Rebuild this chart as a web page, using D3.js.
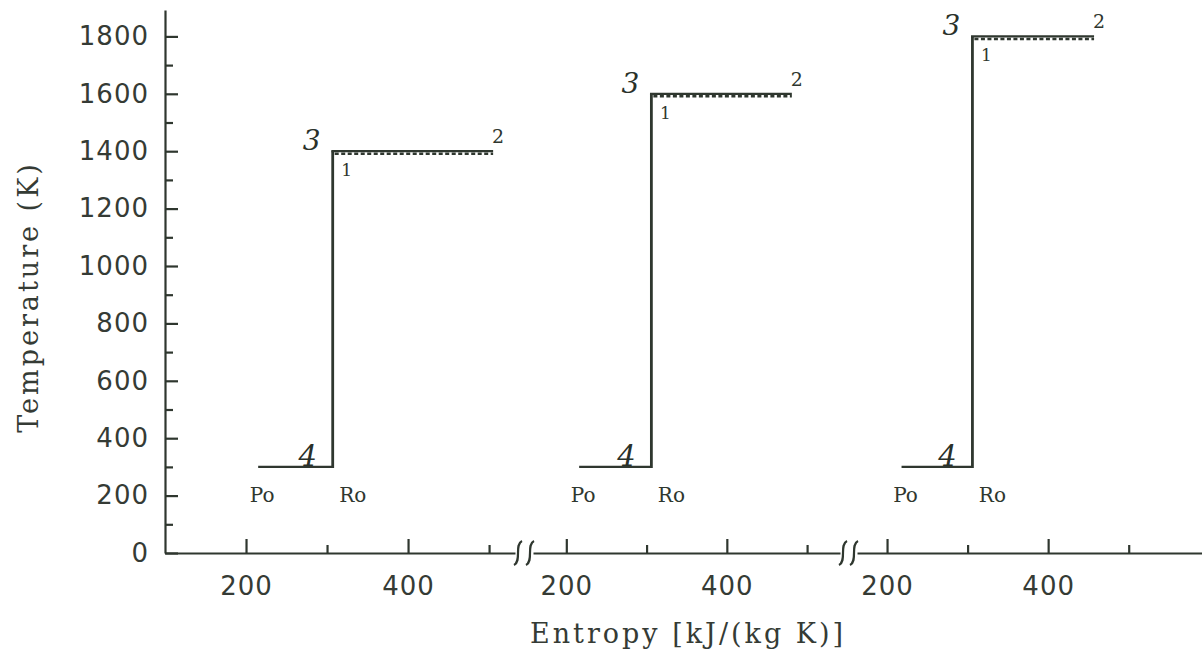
<!DOCTYPE html>
<html>
<head>
<meta charset="utf-8">
<script src="https://cdn.jsdelivr.net/npm/d3@7"></script>
<style>
  body { margin: 0; background: #fff; }
  svg { display: block; }
  .axis path, .axis line { stroke: #2f372f; stroke-width: 2.2; }
  .axis text { font-family: 'DejaVu Sans', sans-serif; font-size: 26px; fill: #353b35; letter-spacing: 1px; }
  .title { font-family: 'DejaVu Serif', serif; font-size: 27px; fill: #353b35; letter-spacing: 3px; }
  .lbl { font-family: 'DejaVu Serif', serif; fill: #2f372f; }
  .hand { font-family: 'DejaVu Serif', serif; font-style: italic; fill: #2a312a; }
</style>
</head>
<body>
<div class="svg-container"></div>
<script>
// one cycle per broken x-axis segment
var cycles = ['a', 'b', 'c'];
var poEntropy = [215, 216, 218];     // Po, kJ/(kg K)
var roEntropy = [307, 306, 306];     // Ro / point 1
var endEntropy = [505, 481, 457];    // point 2
var lowTemp = [300, 300, 300];       // K
var highTemp = [1400, 1600, 1800];   // K

// x domain shown by each panel of the broken axis
var panelDomains = [[100, 532], [158.5, 541], [162.7, 591]];
var majorX = [200, 400];
var minorX = [300, 500];
var majorY = [0, 200, 400, 600, 800, 1000, 1200, 1400, 1600, 1800];
var minorY = [100, 300, 500, 700, 900, 1100, 1300, 1500, 1700];

var width = 1202, height = 656;
var panelRanges = [[165, 515], [533, 840], [857, 1202]];

var svg = d3.select('.svg-container').append('svg')
  .attr('width', width)
  .attr('height', height);

var y = d3.scaleLinear().domain([0, 1892]).range([553, 10]);

var xs = panelDomains.map(function(dom, i) {
  return d3.scaleLinear().domain(dom).range(panelRanges[i]);
});

// y axis, ticks pointing inward
svg.append('g')
  .attr('class', 'axis')
  .attr('transform', 'translate(165,0)')
  .call(d3.axisLeft(y).tickValues(majorY).tickFormat(d3.format('d'))
    .tickSizeInner(-13).tickSizeOuter(0).tickPadding(16));

svg.append('g')
  .attr('class', 'axis')
  .attr('transform', 'translate(165,0)')
  .call(d3.axisLeft(y).tickValues(minorY).tickSizeInner(-8).tickSizeOuter(0).tickFormat(''))
  .select('.domain').remove();

// broken x axis
xs.forEach(function(x) {
  svg.append('g')
    .attr('class', 'axis')
    .attr('transform', 'translate(0,553)')
    .call(d3.axisBottom(x).tickValues(majorX).tickFormat(d3.format('d'))
      .tickSizeInner(-14).tickSizeOuter(0).tickPadding(24));

  svg.append('g')
    .attr('class', 'axis')
    .attr('transform', 'translate(0,553)')
    .call(d3.axisBottom(x).tickValues(minorX).tickSizeInner(-8).tickSizeOuter(0).tickFormat(''))
    .select('.domain').remove();
});

// break marks between panels
function squiggle(cx, cy) {
  return 'M' + (cx + 4) + ',' + (cy - 12) +
    'C' + (cx - 4) + ',' + (cy - 8) + ' ' + (cx + 4) + ',' + (cy + 8) + ' ' + (cx - 4) + ',' + (cy + 12);
}
[0, 1].forEach(function(i) {
  var a = panelRanges[i][1], b = panelRanges[i + 1][0];
  svg.append('path').attr('d', squiggle(a + 3, 553))
    .attr('fill', 'none').attr('stroke', '#2f372f').attr('stroke-width', 2.2);
  svg.append('path').attr('d', squiggle(b - 3, 553))
    .attr('fill', 'none').attr('stroke', '#2f372f').attr('stroke-width', 2.2);
});

// cycles
cycles.forEach(function(c, i) {
  var x = xs[i];
  var g = svg.append('g').attr('class', 'cycle');
  var xp = x(poEntropy[i]), xr = x(roEntropy[i]), xe = x(endEntropy[i]);
  var yl = y(lowTemp[i]), yh = y(highTemp[i]);

  g.append('line')
    .attr('x1', xp).attr('x2', xr).attr('y1', yl).attr('y2', yl)
    .attr('stroke', '#2f372f').attr('stroke-width', 2.2);
  g.append('line')
    .attr('x1', xr).attr('x2', xr).attr('y1', yl + 1).attr('y2', yh)
    .attr('stroke', '#2f372f').attr('stroke-width', 2.8);
  g.append('line')
    .attr('x1', xr - 1.4).attr('x2', xe).attr('y1', yh).attr('y2', yh)
    .attr('stroke', '#2f372f').attr('stroke-width', 2.2);
  g.append('line')
    .attr('x1', xr + 2).attr('x2', xe).attr('y1', yh + 2.5).attr('y2', yh + 2.5)
    .attr('stroke', '#2f372f').attr('stroke-width', 2.5)
    .attr('stroke-dasharray', '4,2.5');

  g.append('text').attr('class', 'hand')
    .attr('x', xr - 21).attr('y', yh - 1)
    .attr('text-anchor', 'middle').style('font-size', '28px').text('3');
  g.append('text').attr('class', 'hand')
    .attr('x', xr - 25).attr('y', yl - 1)
    .attr('text-anchor', 'middle').style('font-size', '29px').text('4');
  g.append('text').attr('class', 'lbl')
    .attr('x', xr + 14).attr('y', yh + 25)
    .attr('text-anchor', 'middle').style('font-size', '17px').text('1');
  g.append('text').attr('class', 'lbl')
    .attr('x', xe + 5).attr('y', yh - 8)
    .attr('text-anchor', 'middle').style('font-size', '19px').text('2');
  g.append('text').attr('class', 'lbl')
    .attr('x', xp + 4).attr('y', yl + 35)
    .attr('text-anchor', 'middle').style('font-size', '20px').text('Po');
  g.append('text').attr('class', 'lbl')
    .attr('x', xr + 20).attr('y', yl + 35)
    .attr('text-anchor', 'middle').style('font-size', '20px').text('Ro');
});

// axis titles
svg.append('text').attr('class', 'title')
  .attr('x', 688).attr('y', 643)
  .attr('text-anchor', 'middle')
  .text('Entropy [kJ/(kg K)]');

svg.append('text').attr('class', 'title')
  .attr('transform', 'translate(38,297) rotate(-90)')
  .attr('text-anchor', 'middle')
  .text('Temperature (K)');
</script>
</body>
</html>
